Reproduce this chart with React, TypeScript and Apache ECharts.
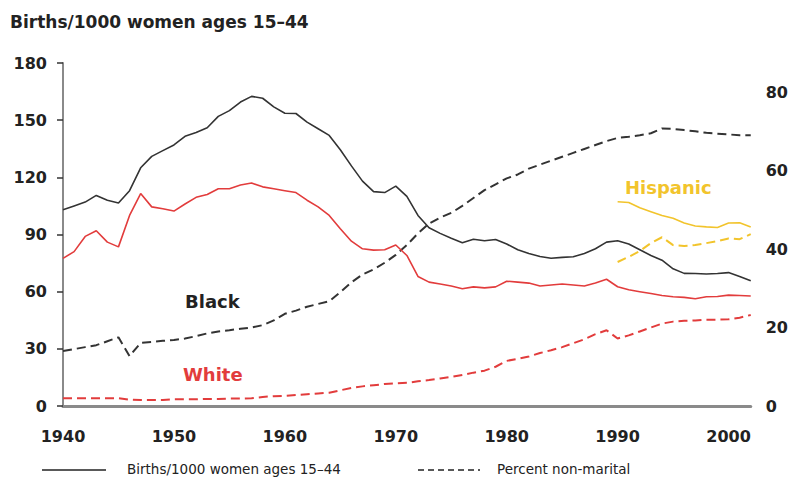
import React, { useEffect, useRef } from "react";
import * as echarts from "echarts";

const startYear = 1940;
const years: number[] = [];
for (let y = 1940; y <= 2002; y++) years.push(y);
const hispanicYears: number[] = [];
for (let y = 1990; y <= 2002; y++) hispanicYears.push(y);

const blackBirths = [
  103, 105, 107, 110.5, 108, 106.5, 113, 125, 131, 134,
  137, 141.5, 143.5, 146, 152, 155, 159.5, 162.5, 161.5, 157,
  153.6, 153.5, 149, 145.5, 142, 134.5, 126, 118, 112.5, 112,
  115.4, 110, 100, 93.5, 90.6, 88, 85.7, 87.5, 86.7, 87.4,
  85, 82, 80, 78.5, 77.5, 78, 78.3, 80, 82.5, 86,
  86.7, 85, 82, 79, 76.5, 72, 69.6, 69.5, 69.3, 69.5,
  70, 68, 65.7,
];
const whiteBirths = [
  77.5, 81, 89, 92, 86, 83.5, 100, 111.5, 104.5, 103.5,
  102.3, 106, 109.5, 111, 114, 114, 116, 117, 115, 114,
  113, 112, 108, 104.5, 100, 93, 86.5, 82.5, 81.8, 82,
  84.5, 79, 68, 65, 64, 63, 61.5, 62.5, 62, 62.5,
  65.5, 65, 64.5, 63, 63.5, 64, 63.5, 63, 64.5, 66.5,
  62.6, 61, 60, 59, 58, 57.3, 57, 56.3, 57.3, 57.5,
  58.2, 58, 57.7,
];
const hispanicBirths = [107.2, 106.8, 104, 102, 100, 98.5, 96, 94.5, 94, 93.7, 96, 96.2, 94];

const blackNonMarital = [
  14, 14.5, 15, 15.5, 16.5, 17.5, 12.7, 16.1, 16.3, 16.6,
  16.8, 17.2, 17.8, 18.5, 19, 19.3, 19.7, 20, 20.6, 21.8,
  23.5, 24.3, 25.3, 26, 26.7, 29, 31.5, 33.5, 34.8, 36.5,
  38.5, 41, 44, 46.5, 48, 49.2, 51, 53, 55, 56.5,
  58, 59, 60.5, 61.5, 62.5, 63.5, 64.5, 65.5, 66.5, 67.5,
  68.3, 68.6, 69, 69.5, 70.7, 70.6, 70.3, 70, 69.6, 69.4,
  69.2, 69, 69,
];
const whiteNonMarital = [
  2, 2, 2, 2, 2, 2, 1.6, 1.5, 1.5, 1.5,
  1.7, 1.7, 1.7, 1.8, 1.8, 1.9, 1.9, 2, 2.3, 2.5,
  2.6, 2.8, 3, 3.2, 3.4, 4, 4.6, 5, 5.3, 5.6,
  5.8, 5.9, 6.3, 6.6, 7, 7.4, 7.9, 8.5, 9, 10,
  11.5, 12, 12.6, 13.5, 14.2, 15, 16, 17, 18.3, 19.3,
  17.2, 18, 19, 20, 21, 21.5, 21.7, 21.8, 22, 22,
  22.1, 22.5, 23.2,
];
const hispanicNonMarital = [36.7, 38, 39.5, 41.5, 43, 41, 40.8, 41, 41.5, 42, 42.7, 42.5, 43.8];

const leftTicks = [0, 30, 60, 90, 120, 150, 180];
const rightTicks = [0, 20, 40, 60, 80];
const xTicks = [1940, 1950, 1960, 1970, 1980, 1990, 2000];

const titleText = "Births/1000 women ages 15\u201344";
const legendSolid = "Births/1000 women ages 15\u201344";
const legendDashed = "Percent non-marital";

const BLACK = "#333333";
const RED = "#e23c3c";
const YELLOW = "#f2c42c";
const FONT = "DejaVu Sans, sans-serif";

function pairs(xs: number[], vs: number[]) {
  return xs.map((x, i) => [x, vs[i]]);
}

export default function App() {
  const ref = useRef<HTMLDivElement>(null);
  useEffect(() => {
    if (!ref.current) return;
    const chart = echarts.init(ref.current, null, { renderer: "svg" });
    const axisLabel = { fontFamily: FONT, fontWeight: "bold", fontSize: 16, color: "#222" };
    const solid = (color: string) => ({ color, width: 1.6, type: "solid" as const });
    const dashed = (color: string) => ({ color, width: 2, type: [9, 5] as any });
    chart.setOption({
      animation: false,
      backgroundColor: "#fff",
      grid: { left: 63, right: 39, top: 63, bottom: 71, containLabel: false },
      xAxis: {
        type: "value",
        min: 1940,
        max: 2002,
        interval: 10,
        splitLine: { show: false },
        axisTick: { show: false },
        axisLine: { show: true, lineStyle: { color: "#8a8a8a", width: 3 } },
        axisLabel: {
          ...axisLabel,
          margin: 22,
          formatter: (v: number) => (xTicks.includes(v) ? String(v) : ""),
        },
      },
      yAxis: [
        {
          type: "value",
          min: 0,
          max: 180,
          interval: 30,
          position: "left",
          splitLine: { show: false },
          axisLine: { show: true, lineStyle: { color: "#8a8a8a", width: 2 } },
          axisTick: { show: true, inside: false, length: 6, lineStyle: { color: "#333", width: 1.5 } },
          axisLabel: {
            ...axisLabel,
            margin: 16,
            formatter: (v: number) => (leftTicks.includes(v) ? String(v) : ""),
          },
        },
        {
          type: "value",
          min: 0,
          max: 87.4,
          interval: 20,
          position: "right",
          splitLine: { show: false },
          axisLine: { show: false },
          axisTick: { show: false },
          axisLabel: {
            ...axisLabel,
            margin: 15,
            formatter: (v: number) => (rightTicks.includes(v) ? String(v) : ""),
          },
        },
      ],
      series: [
        { name: "Black births", type: "line", yAxisIndex: 0, data: pairs(years, blackBirths), showSymbol: false, lineStyle: solid(BLACK), z: 3 },
        { name: "White births", type: "line", yAxisIndex: 0, data: pairs(years, whiteBirths), showSymbol: false, lineStyle: solid(RED), z: 3 },
        { name: "Hispanic births", type: "line", yAxisIndex: 0, data: pairs(hispanicYears, hispanicBirths), showSymbol: false, lineStyle: solid(YELLOW), z: 3 },
        { name: "Black non-marital", type: "line", yAxisIndex: 1, data: pairs(years, blackNonMarital), showSymbol: false, lineStyle: dashed(BLACK), z: 2 },
        { name: "White non-marital", type: "line", yAxisIndex: 1, data: pairs(years, whiteNonMarital), showSymbol: false, lineStyle: dashed(RED), z: 2 },
        { name: "Hispanic non-marital", type: "line", yAxisIndex: 1, data: pairs(hispanicYears, hispanicNonMarital), showSymbol: false, lineStyle: dashed(YELLOW), z: 2 },
      ],
      graphic: [
        { type: "text", left: 10, top: 13, style: { text: titleText, font: `bold 17px ${FONT}`, fill: "#222" } },
        { type: "text", left: 185, top: 292, style: { text: "Black", font: `bold 18px ${FONT}`, fill: "#222" } },
        { type: "text", left: 183, top: 365, style: { text: "White", font: `bold 18px ${FONT}`, fill: RED } },
        { type: "text", left: 625, top: 178, style: { text: "Hispanic", font: `bold 18px ${FONT}`, fill: YELLOW } },
        { type: "line", shape: { x1: 42, y1: 470, x2: 106, y2: 470 }, style: { stroke: "#222", lineWidth: 1.6 } },
        { type: "text", left: 127, top: 462, style: { text: legendSolid, font: `13.5px ${FONT}`, fill: "#222" } },
        { type: "line", shape: { x1: 418, y1: 470, x2: 480, y2: 470 }, style: { stroke: "#222", lineWidth: 1.6, lineDash: [6, 4] } },
        { type: "text", left: 497, top: 462, style: { text: legendDashed, font: `13.5px ${FONT}`, fill: "#222" } },
      ],
    });
    return () => chart.dispose();
  }, []);
  return <div ref={ref} style={{ position: "fixed", left: 0, top: 0, width: 791, height: 477 }} />;
}
